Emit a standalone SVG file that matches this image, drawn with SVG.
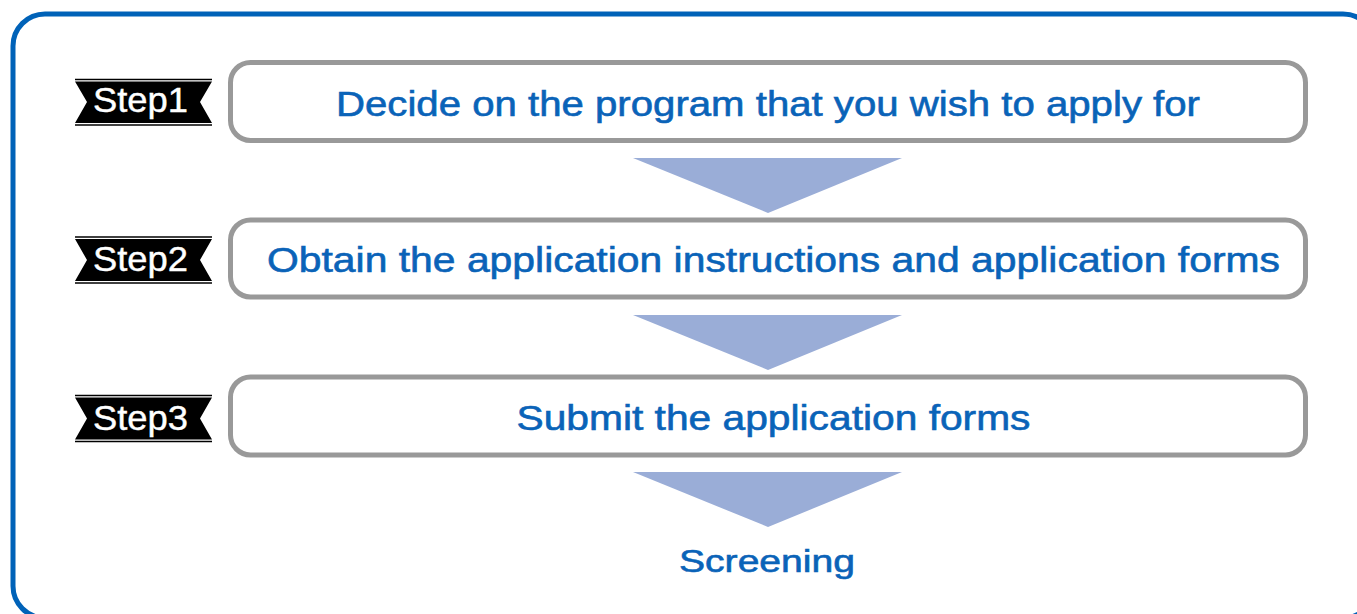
<svg xmlns="http://www.w3.org/2000/svg" width="1357" height="614" viewBox="0 0 1357 614">
<defs>
<style>
.frame{fill:#ffffff;stroke:#0062b8;stroke-width:5}
.box{fill:#ffffff;stroke:#999999;stroke-width:5}
.badge{fill:#000000}
.rule{stroke:#000000;stroke-width:1.5}
.steptxt{font-family:"Liberation Sans",Arial,sans-serif;font-size:35px;fill:#ffffff;stroke:#ffffff;stroke-width:0.4}
.lbl{font-family:"Liberation Sans",Arial,sans-serif;font-size:35px;fill:#0a63b8;stroke:#0a63b8;stroke-width:0.6;text-anchor:middle}
.arrow{fill:#9aadd7}
</style>
</defs>
<rect width="1357" height="614" fill="#ffffff"/>
<rect class="frame" x="13" y="14" width="1362" height="604" rx="32"/>

<g id="connectors">
<polygon class="arrow" points="633,158 902,158 768,213"/>
<polygon class="arrow" points="633,315 902,315 768,370"/>
<polygon class="arrow" points="633,472 902,472 768,527"/>
</g>

<g id="step1">
<line class="rule" x1="75" y1="79.5" x2="212" y2="79.5"/>
<polygon class="badge" points="75,81.5 212,81.5 200,102 212,123 75,123 87,102"/>
<line class="rule" x1="75" y1="125" x2="212" y2="125"/>
<text class="steptxt" x="93" y="112" textLength="95" lengthAdjust="spacingAndGlyphs">Step1</text>
<rect class="box" x="230.5" y="62.5" width="1075" height="78" rx="20"/>
<text class="lbl" x="768" y="116" textLength="864" lengthAdjust="spacingAndGlyphs">Decide on the program that you wish to apply for</text>
</g>

<g id="step2">
<line class="rule" x1="75" y1="237" x2="212" y2="237"/>
<polygon class="badge" points="75,239 212,239 200,260 212,281 75,281 87,260"/>
<line class="rule" x1="75" y1="283" x2="212" y2="283"/>
<text class="steptxt" x="93" y="271" textLength="95" lengthAdjust="spacingAndGlyphs">Step2</text>
<rect class="box" x="230.5" y="220" width="1075" height="77" rx="20"/>
<text class="lbl" x="773.5" y="272" textLength="1013" lengthAdjust="spacingAndGlyphs">Obtain the application instructions and application forms</text>
</g>

<g id="step3">
<line class="rule" x1="75" y1="395.5" x2="212" y2="395.5"/>
<polygon class="badge" points="75,397.5 212,397.5 200,418.5 212,439.5 75,439.5 87,418.5"/>
<line class="rule" x1="75" y1="441.5" x2="212" y2="441.5"/>
<text class="steptxt" x="93" y="430" textLength="95" lengthAdjust="spacingAndGlyphs">Step3</text>
<rect class="box" x="230.5" y="377" width="1075" height="78" rx="20"/>
<text class="lbl" x="773.5" y="430" textLength="514" lengthAdjust="spacingAndGlyphs">Submit the application forms</text>
</g>

<g id="screening">
<text class="lbl" x="767" y="572" style="font-size:31px" textLength="176" lengthAdjust="spacingAndGlyphs">Screening</text>
</g>
</svg>
